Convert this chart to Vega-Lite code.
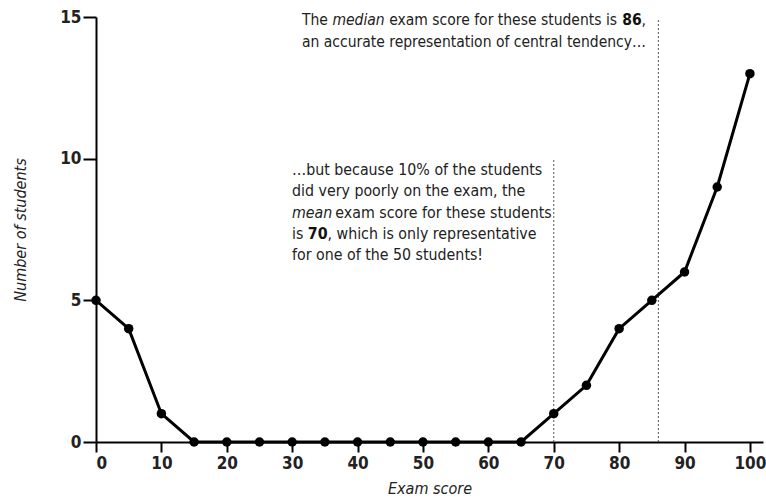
{
  "$schema": "https://vega.github.io/schema/vega-lite/v6.json",
  "autosize": "none",
  "width": 667,
  "height": 425,
  "padding": {"left": 96, "top": 17, "right": 3, "bottom": 60},
  "background": "white",
  "config": {
    "view": {"stroke": null},
    "font": "DejaVu Sans Condensed, sans-serif",
    "axis": {
      "grid": false,
      "domainColor": "black",
      "domainWidth": 2,
      "tickColor": "black",
      "tickWidth": 2,
      "labelFont": "DejaVu Sans Condensed, sans-serif",
      "labelFontWeight": "bold",
      "labelFontSize": 17,
      "labelColor": "#222",
      "titleFont": "DejaVu Sans Condensed, sans-serif",
      "titleFontStyle": "italic",
      "titleFontWeight": "normal",
      "titleFontSize": 16,
      "titleColor": "#222"
    }
  },
  "datasets": {
    "counts": [
      {"score": 0, "n": 5}, {"score": 5, "n": 4}, {"score": 10, "n": 1}, {"score": 15, "n": 0},
      {"score": 20, "n": 0}, {"score": 25, "n": 0}, {"score": 30, "n": 0}, {"score": 35, "n": 0},
      {"score": 40, "n": 0}, {"score": 45, "n": 0}, {"score": 50, "n": 0}, {"score": 55, "n": 0},
      {"score": 60, "n": 0}, {"score": 65, "n": 0}, {"score": 70, "n": 1}, {"score": 75, "n": 2},
      {"score": 80, "n": 4}, {"score": 85, "n": 5}, {"score": 90, "n": 6}, {"score": 95, "n": 9},
      {"score": 100, "n": 13}
    ],
    "refs": [
      {"score": 86, "lo": 0, "hi": 14.9},
      {"score": 70, "lo": 0, "hi": 10}
    ],
    "topPlain": [
      {"score": 31.5, "n": 14.89, "label": "The"},
      {"score": 44.84, "n": 14.89, "label": "exam score for these students is"},
      {"score": 83.43, "n": 14.89, "label": ","},
      {"score": 31.5, "n": 14.12, "label": "an accurate representation of central tendency…"}
    ],
    "topItalic": [
      {"score": 36.15, "n": 14.89, "label": "median"}
    ],
    "topBold": [
      {"score": 80.47, "n": 14.89, "label": "86"}
    ],
    "midPlain": [
      {"score": 29.97, "n": 9.60, "label": "…but because 10% of the students"},
      {"score": 29.97, "n": 8.86, "label": "did very poorly on the exam, the"},
      {"score": 36.6, "n": 8.08, "label": "exam score for these students"},
      {"score": 29.97, "n": 7.34, "label": "is"},
      {"score": 35.4, "n": 7.34, "label": ", which is only representative"},
      {"score": 29.97, "n": 6.60, "label": "for one of the 50 students!"}
    ],
    "midItalic": [
      {"score": 29.97, "n": 8.08, "label": "mean"}
    ],
    "midBold": [
      {"score": 32.4, "n": 7.34, "label": "70"}
    ]
  },
  "layer": [
    {
      "data": {"name": "refs"},
      "mark": {"type": "rule", "color": "#555", "strokeWidth": 1, "strokeDash": [2, 2]},
      "encoding": {
        "x": {"field": "score", "type": "quantitative", "scale": {"domain": [0, 102]}},
        "y": {"field": "lo", "type": "quantitative"},
        "y2": {"field": "hi"}
      }
    },
    {
      "data": {"name": "counts"},
      "mark": {"type": "line", "color": "black", "strokeWidth": 3,
               "point": {"filled": true, "size": 90, "color": "black", "opacity": 1}},
      "encoding": {
        "x": {"field": "score", "type": "quantitative",
              "scale": {"domain": [0, 102], "nice": false},
              "axis": {"values": [0, 10, 20, 30, 40, 50, 60, 70, 80, 90, 100], "tickSize": 10, "labelPadding": 3, "title": "Exam score", "titlePadding": 9}},
        "y": {"field": "n", "type": "quantitative",
              "scale": {"domain": [0, 15], "nice": false},
              "axis": {"values": [0, 5, 10, 15], "tickSize": 13, "labelPadding": 2, "title": "Number of students", "titlePadding": 31}}
      }
    },
    {
      "data": {"name": "topPlain"},
      "mark": {"type": "text", "align": "left", "baseline": "middle", "fontSize": 15.5, "color": "#222"},
      "encoding": {
        "x": {"field": "score", "type": "quantitative"},
        "y": {"field": "n", "type": "quantitative"},
        "text": {"field": "label"}
      }
    },
    {
      "data": {"name": "topItalic"},
      "mark": {"type": "text", "align": "left", "baseline": "middle", "fontSize": 15.5, "fontStyle": "italic", "color": "#222"},
      "encoding": {
        "x": {"field": "score", "type": "quantitative"},
        "y": {"field": "n", "type": "quantitative"},
        "text": {"field": "label"}
      }
    },
    {
      "data": {"name": "topBold"},
      "mark": {"type": "text", "align": "left", "baseline": "middle", "fontSize": 15.5, "fontWeight": "bold", "color": "#111"},
      "encoding": {
        "x": {"field": "score", "type": "quantitative"},
        "y": {"field": "n", "type": "quantitative"},
        "text": {"field": "label"}
      }
    },
    {
      "data": {"name": "midPlain"},
      "mark": {"type": "text", "align": "left", "baseline": "middle", "fontSize": 15.8, "color": "#222"},
      "encoding": {
        "x": {"field": "score", "type": "quantitative"},
        "y": {"field": "n", "type": "quantitative"},
        "text": {"field": "label"}
      }
    },
    {
      "data": {"name": "midItalic"},
      "mark": {"type": "text", "align": "left", "baseline": "middle", "fontSize": 15.8, "fontStyle": "italic", "color": "#222"},
      "encoding": {
        "x": {"field": "score", "type": "quantitative"},
        "y": {"field": "n", "type": "quantitative"},
        "text": {"field": "label"}
      }
    },
    {
      "data": {"name": "midBold"},
      "mark": {"type": "text", "align": "left", "baseline": "middle", "fontSize": 15.8, "fontWeight": "bold", "color": "#111"},
      "encoding": {
        "x": {"field": "score", "type": "quantitative"},
        "y": {"field": "n", "type": "quantitative"},
        "text": {"field": "label"}
      }
    }
  ]
}
